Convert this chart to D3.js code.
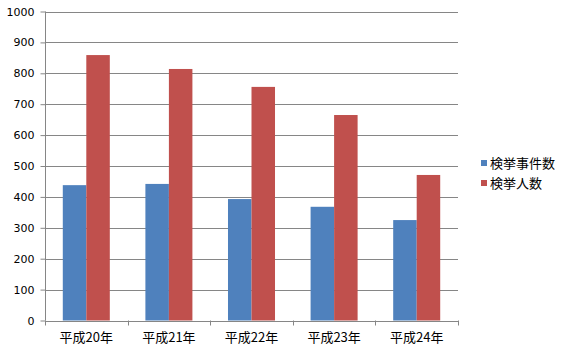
<!DOCTYPE html>
<html><head><meta charset="utf-8">
<script src="https://cdn.jsdelivr.net/npm/d3@7"></script>
<style>body{margin:0;background:#fff;}svg{display:block;}</style>
</head><body>
<svg id="c" width="568" height="351"></svg>
<script>
const categories = ["平成20年","平成21年","平成22年","平成23年","平成24年"];
const seriesNames = ["検挙事件数","検挙人数"];
const cases = [438, 442, 393, 368, 325];
const persons = [859, 814, 756, 665, 471];
const yTicks = [0,100,200,300,400,500,600,700,800,900,1000];
const colors = ["#4F81BD","#C0504D"];

const svg = d3.select("#c");
const pLeft = 45, pRight = 458, pTop = 11.5, pBottom = 320.5;
const x = d3.scaleBand().domain(categories).range([pLeft, pRight]).paddingInner(0).paddingOuter(0);
const x1 = d3.scaleBand().domain(seriesNames).range([0, x.bandwidth()]).paddingInner(0).paddingOuter(0.757);
const y = d3.scaleLinear().domain([0,1000]).range([pBottom, pTop]);
const gridColor = "#868686";

// gridlines
svg.append("g").selectAll("line").data(yTicks).join("line")
  .attr("x1", pLeft).attr("x2", pRight)
  .attr("y1", d => Math.round(y(d))+0.5).attr("y2", d => Math.round(y(d))+0.5)
  .attr("stroke", gridColor).attr("stroke-width", 1);

// bars
const data = categories.map((c,i) => ({c, vals:[cases[i], persons[i]]}));
const g = svg.append("g").selectAll("g").data(data).join("g")
  .attr("transform", d => `translate(${x(d.c)},0)`);
g.selectAll("rect").data(d => d.vals.map((v,j)=>({v, s:seriesNames[j], j}))).join("rect")
  .attr("x", d => x1(d.s)).attr("width", x1.bandwidth())
  .attr("y", d => y(d.v)).attr("height", d => y(0)-y(d.v))
  .attr("fill", d => colors[d.j]);

// y axis
const ya = svg.append("g").attr("transform", `translate(${pLeft+0.5},0)`)
  .call(d3.axisLeft(y).tickValues(yTicks).tickSize(5).tickPadding(6).tickFormat(d3.format("d")));
ya.select(".domain").attr("stroke", gridColor).attr("d", `M0,${pTop}V${pBottom}`);
ya.selectAll(".tick line").attr("stroke", gridColor);
ya.selectAll(".tick text").attr("font-family","DejaVu Sans").attr("font-size","11px").attr("fill","#000");

// x axis
const xa = svg.append("g").attr("transform", `translate(0,${Math.round(pBottom)+0.5})`)
  .call(d3.axisBottom(x).tickSize(0).tickPadding(11));
xa.select(".domain").attr("stroke", gridColor).attr("d", `M${pLeft},0H${pRight}`);
xa.selectAll(".tick text").attr("font-family","Noto Sans CJK JP, DejaVu Sans").attr("font-size","13px").attr("fill","#000");
svg.append("g").selectAll("line").data(d3.range(categories.length+1)).join("line")
  .attr("x1", i => Math.round(pLeft + i*x.bandwidth())+0.5).attr("x2", i => Math.round(pLeft + i*x.bandwidth())+0.5)
  .attr("y1", pBottom).attr("y2", pBottom+5).attr("stroke", gridColor);

// legend
const lg = svg.append("g").selectAll("g").data(seriesNames).join("g")
  .attr("transform", (d,i) => `translate(481,${160 + i*20})`);
lg.append("rect").attr("width",6).attr("height",6).attr("fill",(d,i)=>colors[i]);
lg.append("text").attr("x",9).attr("y",7.5).text(d=>d)
  .attr("font-family","Noto Sans CJK JP").attr("font-size","13px").attr("fill","#000");
</script>
</body></html>
